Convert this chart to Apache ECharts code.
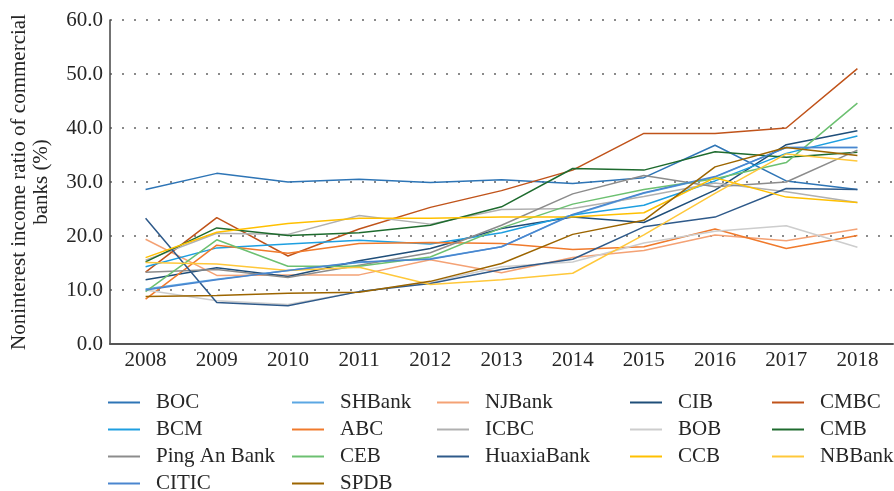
<!DOCTYPE html>
<html>
<head>
<meta charset="utf-8">
<script src="https://cdn.jsdelivr.net/npm/echarts@6/dist/echarts.min.js"></script>
<style>
  html, body { margin: 0; padding: 0; background: #fff; }
  #chart { width: 894px; height: 491px; }
</style>
</head>
<body>
<div id="chart"></div>
<script>
// years on the x axis
const years = ['2008', '2009', '2010', '2011', '2012', '2013', '2014', '2015', '2016', '2017', '2018'];

// noninterest income ratio (%) per bank
const BOC        = [28.6, 31.6, 30.0, 30.5, 29.9, 30.4, 29.7, 30.8, 36.8, 30.2, 28.6];
const SHBank     = [10.2, 12.0, 13.6, 15.1, 15.8, 18.0, 23.9, 27.9, 30.9, 36.4, 36.4];
const NJBank     = [19.4, 12.7, 12.8, 12.8, 15.6, 13.2, 16.0, 17.3, 20.2, 19.1, 21.3];
const CIB        = [11.9, 14.1, 12.5, 15.4, 17.7, 21.4, 23.5, 22.5, 28.5, 36.9, 39.5];
const CMBC       = [13.3, 23.4, 16.3, 21.3, 25.3, 28.4, 32.2, 39.0, 39.0, 40.0, 51.0];
const BCM        = [14.3, 17.8, 18.5, 19.2, 18.5, 20.6, 23.9, 25.7, 30.2, 35.3, 38.5];
const ABC        = [8.3, 18.3, 16.8, 18.6, 18.8, 18.6, 17.5, 18.0, 21.3, 17.7, 20.1];
const ICBC       = [15.5, 20.5, 20.3, 23.8, 22.2, 24.9, 25.1, 27.3, 29.8, 28.2, 26.2];
const BOB        = [10.0, 8.0, 7.3, 9.7, 11.5, 14.3, 15.2, 18.7, 20.9, 21.9, 17.9];
const CMB        = [15.2, 21.5, 20.1, 20.6, 22.0, 25.4, 32.5, 32.2, 35.6, 34.6, 35.5];
const PingAnBank = [13.3, 13.8, 12.3, 14.6, 16.9, 22.0, 27.8, 31.2, 29.1, 30.0, 35.9];
const CEB        = [9.7, 19.3, 14.4, 14.4, 16.1, 21.5, 25.9, 28.6, 30.6, 33.6, 44.6];
const HuaxiaBank = [23.3, 7.7, 7.1, 9.7, 11.2, 13.8, 15.7, 21.7, 23.5, 28.8, 28.6];
const CCB        = [16.0, 20.7, 22.3, 23.3, 23.3, 23.5, 23.5, 24.3, 30.8, 27.2, 26.2];
const NBBank     = [15.1, 14.8, 13.6, 14.2, 11.0, 11.9, 13.1, 20.2, 27.9, 35.2, 33.9];
const CITIC      = [10.0, 11.9, 13.6, 15.2, 15.7, 18.0, 24.0, 28.0, 31.0, 36.4, 36.4];
const SPDB       = [8.8, 9.0, 9.4, 9.6, 11.6, 14.9, 20.3, 22.9, 32.8, 36.4, 34.9];

const banks = [
    { name: 'BOC', data: BOC, color: '#2E75B6' },
    { name: 'SHBank', data: SHBank, color: '#5BA7E3' },
    { name: 'NJBank', data: NJBank, color: '#F4A275' },
    { name: 'CIB', data: CIB, color: '#1F4E79' },
    { name: 'CMBC', data: CMBC, color: '#C0531A' },
    { name: 'BCM', data: BCM, color: '#1E9FE0' },
    { name: 'ABC', data: ABC, color: '#F07A2C' },
    { name: 'ICBC', data: ICBC, color: '#B0B0B0' },
    { name: 'BOB', data: BOB, color: '#CDCDCD' },
    { name: 'CMB', data: CMB, color: '#1E6B2E' },
    { name: 'Ping An Bank', data: PingAnBank, color: '#8C8C8C' },
    { name: 'CEB', data: CEB, color: '#6CC071' },
    { name: 'HuaxiaBank', data: HuaxiaBank, color: '#2F5A8A' },
    { name: 'CCB', data: CCB, color: '#FFC000' },
    { name: 'NBBank', data: NBBank, color: '#FFC83A' },
    { name: 'CITIC', data: CITIC, color: '#4A86CF' },
    { name: 'SPDB', data: SPDB, color: '#9C6500' }
];

// legend laid out in 5 columns, row by row
const legendCols = [
    { left: 108, names: ['BOC', 'BCM', 'Ping An Bank', 'CITIC'] },
    { left: 292, names: ['SHBank', 'ABC', 'CEB', 'SPDB'] },
    { left: 437, names: ['NJBank', 'ICBC', 'HuaxiaBank'] },
    { left: 630, names: ['CIB', 'BOB', 'CCB'] },
    { left: 772, names: ['CMBC', 'CMB', 'NBBank'] }
];

const FONT = 'Liberation Serif';

const chartDom = document.getElementById('chart');
const myChart = echarts.init(chartDom);

myChart.setOption({
    animation: false,
    textStyle: { fontFamily: FONT },
    grid: {
        left: 107,
        right: 1,
        top: 20,
        bottom: 147,
        containLabel: false
    },
    legend: legendCols.map(col => {
        return {
            orient: 'vertical',
            left: col.left,
            top: 392,
            height: 130, // let the column run past the bottom edge instead of wrapping
            padding: 0,
            itemGap: 6,
            itemWidth: 32,
            itemHeight: 2,
            icon: 'rect',
            data: col.names,
            textStyle: {
                fontFamily: FONT,
                fontSize: 21,
                color: '#262626',
                padding: [0, 0, 0, 11]
            }
        }
    }),
    xAxis: {
        type: 'category',
        data: years,
        boundaryGap: true,
        axisLine: { lineStyle: { color: '#555', width: 2 } },
        axisTick: { show: false },
        axisLabel: {
            fontFamily: FONT,
            fontSize: 21,
            color: '#262626',
            margin: 6
        }
    },
    yAxis: {
        type: 'value',
        min: 0,
        max: 60,
        interval: 10,
        name: 'Noninterest income ratio of commercial\nbanks (%)',
        nameLocation: 'middle',
        nameGap: 58,
        nameRotate: 90,
        nameTextStyle: {
            fontFamily: FONT,
            fontSize: 21,
            lineHeight: 22,
            color: '#262626'
        },
        axisLine: { show: true, lineStyle: { color: '#444', width: 1.5 } },
        axisTick: { show: false },
        axisLabel: {
            fontFamily: FONT,
            fontSize: 21,
            color: '#262626',
            margin: 7,
            formatter: v => v.toFixed(1)
        },
        splitLine: {
            lineStyle: { color: '#8a8a8a', width: 2, type: [2, 10] }
        }
    },
    series: banks.map(b => {
        return {
            name: b.name,
            type: 'line',
            data: b.data,
            symbol: 'none',
            color: b.color,
            lineStyle: { width: 1.5, color: b.color }
        }
    })
});
</script>
</body>
</html>
